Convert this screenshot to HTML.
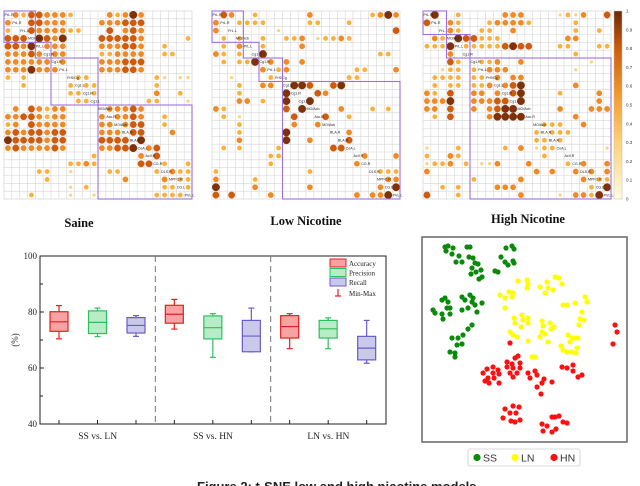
<!DOCTYPE html>
<html><head><meta charset="utf-8"><style>
html,body{margin:0;padding:0;background:#fff;width:640px;height:486px;overflow:hidden}
svg{display:block}
</style></head><body>
<svg id="root" width="640" height="486" viewBox="0 0 640 486" xmlns="http://www.w3.org/2000/svg">
<g id="mats"></g>
<g id="box"></g>
<g id="sc"></g>
<text x="197" y="491" font-family="Liberation Sans, sans-serif" font-weight="bold" font-size="13" fill="#222">Figure 2: t-SNE low and high nicotine models</text>
</svg>
<script>
const NS='http://www.w3.org/2000/svg';
function mk(p,t,a){const e=document.createElementNS(NS,t);for(const k in a)e.setAttribute(k,a[k]);p.appendChild(e);return e;}

// ---------- correlation matrices ----------
const m1Upper=[[0,1,3],[0,2,2],[0,3,4],[0,4,4],[0,5,3],[0,6,3],[0,7,3],[0,8,2],[0,13,3],[0,14,2],[0,15,3],[0,16,5],[0,17,3],
[1,3,4],[1,4,4],[1,5,3],[1,6,3],[1,7,3],[1,12,3],[1,13,3],[1,14,3],[1,15,4],[1,16,4],[1,17,4],
[2,3,4],[2,4,3],[2,5,3],[2,6,3],[2,7,3],[2,8,2],[2,9,2],[2,13,4],[2,15,3],[2,16,4],[2,17,3],
[3,4,5],[3,5,4],[3,6,3],[3,7,5],[3,12,4],[3,13,4],[3,14,4],[3,15,4],[3,16,4],[3,17,3],[3,23,2],
[4,5,3],[4,6,3],[4,7,3],[4,12,3],[4,13,3],[4,14,3],[4,15,4],[4,16,4],[4,17,3],[4,20,2],
[5,6,3],[5,7,3],[5,12,2],[5,13,2],[5,14,3],[5,15,3],[5,16,3],[5,17,3],[5,20,2],[5,21,2],
[6,7,3],[6,12,3],[6,13,3],[6,14,3],[6,15,4],[6,16,4],[6,17,4],
[7,12,3],[7,13,3],[7,14,3],[7,15,4],[7,16,4],[7,17,3],
[8,9,2],[8,10,2],[8,19,2],[8,20,1],[8,22,1],[8,23,1],[9,10,2],[9,11,2],[9,19,2],[10,11,2],[10,19,3],[10,22,2],[11,18,2],[11,19,2],[11,23,1],
[12,13,3],[12,14,3],[12,15,3],[12,16,4],[12,17,3],[13,14,3],[13,15,3],[13,16,4],[13,17,3],[13,20,2],
[14,15,3],[14,16,4],[14,17,4],[14,20,2],[15,16,4],[15,17,4],[15,21,3],[16,17,5],[17,18,3],[17,19,4],[18,19,4],
[19,20,2],[19,23,2],[20,21,3],[20,22,2],[20,23,2],[21,22,2],[21,23,2],[22,23,2]];
const m2Cells=[[0,1,4],[0,2,3],[0,5,2],[0,12,3],[0,20,2],[0,21,3],[0,22,5],[0,23,3],
[1,0,3],[1,3,2],[1,4,2],[1,5,2],[1,6,2],[1,12,2],[1,13,2],[1,17,2],[2,0,3],[2,8,1],[2,23,4],
[3,1,2],[3,3,2],[3,6,2],[3,9,2],[3,10,2],[3,11,3],[3,13,1],[3,14,2],[3,15,2],[3,16,3],[3,17,2],
[4,1,2],[4,3,3],[4,6,2],[4,11,3],[5,0,3],[5,1,2],[5,3,2],[5,6,5],[5,21,2],[5,22,2],
[6,1,2],[6,3,2],[6,4,2],[6,5,5],[6,7,3],[6,9,3],[6,11,3],[7,6,3],[7,8,2],[7,9,3],[7,18,2],[7,19,2],[7,23,3],
[8,2,1],[8,7,2],[8,17,2],[8,18,2],[9,3,2],[9,6,3],[9,7,3],[9,10,5],[9,11,5],[9,12,4],[9,15,4],[9,16,5],
[10,3,2],[10,9,5],[10,13,4],[10,14,3],[11,3,3],[11,4,3],[11,6,2],[11,9,5],[11,12,5],
[12,0,3],[12,1,2],[12,9,4],[12,11,5],[12,16,3],[12,20,2],[12,22,2],[13,1,2],[13,3,1],[13,10,4],[13,14,4],[13,17,2],
[14,3,2],[14,10,3],[14,13,3],[15,3,2],[15,9,5],[15,17,3],[16,3,3],[16,9,5],[16,12,3],[16,17,4],
[17,1,2],[17,3,2],[17,8,2],[17,15,4],[17,16,4],[18,7,2],[18,8,2],[18,19,3],[18,23,3],[19,7,2],[19,18,3],
[20,0,2],[20,12,2],[20,21,2],[20,22,2],[20,23,2],[21,0,3],[21,5,2],[21,22,3],[21,23,3],
[22,0,5],[22,5,3],[22,12,3],[22,21,3],[22,23,5],[23,0,4],[23,2,4],[23,7,3],[23,18,3],[23,20,3],[23,21,3],[23,22,5]];
const m3Cells=[[0,1,5],[0,4,2],[0,10,3],[0,11,3],[0,12,3],[0,17,1],[0,18,2],[0,19,1],[0,20,3],[0,23,4],
[1,0,4],[1,3,3],[1,4,2],[1,8,2],[1,9,3],[1,10,3],[1,11,3],[1,12,3],[1,13,2],[1,19,2],
[2,3,3],[2,4,2],[2,7,2],[2,8,2],[2,11,3],[2,19,2],[2,22,2],
[3,1,3],[3,2,2],[3,4,5],[3,5,4],[3,6,4],[3,7,2],[3,8,2],[3,9,2],[3,18,3],[3,19,3],
[4,0,2],[4,1,2],[4,2,2],[4,3,5],[4,5,2],[4,6,2],[4,7,2],[4,8,2],[4,9,2],[4,10,4],[4,11,5],[4,12,4],[4,13,4],[4,17,2],[4,18,2],[4,22,2],[4,23,2],
[5,3,3],[5,19,2],[6,3,4],[6,4,2],[6,7,2],[6,8,2],[6,9,3],[6,12,3],[6,21,1],
[7,2,1],[7,3,2],[7,4,2],[7,6,2],[7,8,3],[7,9,3],[7,10,3],[7,19,1],
[8,1,2],[8,2,2],[8,3,2],[8,4,2],[8,6,2],[8,7,2],[8,9,3],[8,11,3],[8,12,3],
[9,1,2],[9,3,2],[9,4,2],[9,6,2],[9,7,2],[9,8,3],[9,10,3],[9,11,4],[9,12,5],[9,19,3],
[10,0,3],[10,1,2],[10,3,4],[10,6,3],[10,7,3],[10,9,3],[10,11,4],[10,12,5],[10,17,2],[10,22,3],
[11,0,3],[11,1,3],[11,2,3],[11,3,5],[11,6,3],[11,7,3],[11,8,3],[11,9,4],[11,10,4],[11,12,5],[11,22,3],
[12,0,3],[12,1,3],[12,3,4],[12,6,3],[12,8,3],[12,9,4],[12,10,5],[12,11,5],[12,17,3],[12,21,3],[12,22,3],[12,23,3],
[13,1,2],[13,3,4],[13,8,3],[13,9,5],[13,10,5],[13,11,5],[13,12,5],[13,19,3],
[14,15,2],[14,16,2],[14,17,2],[14,20,3],[15,14,2],[15,16,2],[15,17,2],[15,18,2],[16,14,2],[16,15,2],[16,17,2],
[17,0,1],[17,4,2],[17,10,2],[17,12,3],[17,14,1],[17,15,2],[17,16,2],[17,23,1],[18,0,2],[18,3,3],[18,4,2],[18,15,2],
[19,0,1],[19,1,2],[19,2,2],[19,3,3],[19,5,2],[19,7,1],[19,8,1],[19,9,3],[19,13,3],[19,18,2],[19,20,3],[19,23,3],
[20,0,3],[20,14,3],[20,16,3],[20,19,3],[20,21,3],[20,23,3],[21,6,2],[21,12,3],[21,20,3],[21,22,2],[21,23,2],
[22,2,2],[22,4,2],[22,9,3],[22,10,3],[22,11,3],[22,21,2],[22,23,5],[23,0,4],[23,4,2],[23,12,3],[23,17,1],[23,19,3],[23,20,3],[23,21,2],[23,22,5]];
const m1Blocks=[[0,4],[4,6],[6,12],[12,24]];
const m2Blocks=[[0,4],[4,6],[6,9],[9,24]];
const m3Blocks=[[0,3],[3,6],[6,24]];
const diagLabels=['PrL.R','PrL.R','PrL.L','MO/Acb','PrL.L','Cg1.R','Cg1.R','PrL.L','PrS/Cg','Cg1.L','Cg1.R','Cg1.L','MO/Acb','Acc.R','MO/Acb','BLA.R','BLA.R','CeA.L','AcV.R','CG.R','DLS.R','MPFC.R','CG.L','PVL.L'];
const matTitles=['Saine','Low Nicotine','High Nicotine'];
const colorSteps=['#fff','#fdd27a','#fbb03b','#f08a24','#cf5c0e','#7f3208'];
const radSteps=[0,1.6,2.4,2.9,3.4,3.9];

function drawMatrix(idx,x0,y0,size,cells,sym,blocks,title,tx,ty){
  const g=mk(document.getElementById('mats'),'g',{});
  
  
  const n=24,c=size/n;
  mk(g,'rect',{x:x0,y:y0,width:size,height:size,fill:'#fff',stroke:'#ccc','stroke-width':0.6});
  for(let i=1;i<n;i++){
    mk(g,'line',{x1:x0+i*c,y1:y0,x2:x0+i*c,y2:y0+size,stroke:'#d6d6d6','stroke-width':0.6});
    mk(g,'line',{x1:x0,y1:y0+i*c,x2:x0+size,y2:y0+i*c,stroke:'#d6d6d6','stroke-width':0.6});
  }
  const all=[];
  cells.forEach(d=>{all.push(d);if(sym)all.push([d[1],d[0],d[2]]);});
  all.forEach(d=>{
    const e=mk(g,'circle',{cx:x0+(d[1]+0.5)*c,cy:y0+(d[0]+0.5)*c,r:radSteps[d[2]],fill:colorSteps[d[2]]});
    
    
  });
  for(let i=0;i<n;i++){
    const t=mk(g,'text',{x:x0+i*c+0.5,y:y0+(i+0.5)*c+1.3,'font-size':3.6,'font-family':'Liberation Sans, sans-serif',fill:'#222'});
    t.textContent=diagLabels[i];
    
    
  }
  blocks.forEach(b=>{
    const r=mk(g,'rect',{x:x0+b[0]*c,y:y0+b[0]*c,width:(b[1]-b[0])*c,height:(b[1]-b[0])*c,fill:'none',stroke:'#9d6fe0','stroke-width':1.1});
    
    
  });
  const t=mk(g,'text',{x:tx,y:ty,'text-anchor':'middle','font-size':12.5,'font-weight':'bold','font-family':'Liberation Serif, serif',fill:'#111'});
  t.textContent=title;
  
  
}
drawMatrix(0,4,11,188,m1Upper,true,m1Blocks,matTitles[0],79,227);
drawMatrix(1,212,11,188,m2Cells,false,m2Blocks,matTitles[1],306,225);
drawMatrix(2,423,11,188,m3Cells,false,m3Blocks,matTitles[2],528,223);
// colorbar
(function(){
  const g=mk(document.getElementById('mats'),'g',{});
  
  
  const defs=mk(g,'defs',{});
  const lg=mk(defs,'linearGradient',{id:'cb',x1:0,y1:1,x2:0,y2:0});
  [['0','#fffbe2'],['0.3','#fdd27a'],['0.55','#f39a2e'],['0.8','#cf5c0e'],['1','#6b2807']].forEach(s=>mk(lg,'stop',{offset:s[0],'stop-color':s[1]}));
  mk(g,'rect',{x:614,y:11,width:8,height:188,fill:'url(#cb)',stroke:'#bbb','stroke-width':0.5});
  const cbTicks=['0','0.1','0.2','0.3','0.4','0.5','0.6','0.7','0.8','0.9','1'];
  cbTicks.forEach((s,i)=>{const t=mk(g,'text',{x:626,y:199-i*18.8+1.5,'font-size':4.5,'font-family':'Liberation Sans, sans-serif',fill:'#333'});t.textContent=s;});
})();

// ---------- box plot ----------
const groups=['SS vs. LN','SS vs. HN','LN vs. HN'];
const metrics=['Accuracy','Precision','Recall'];
const boxMin=[[70.4,71.2,71.3],[73.9,63.8,65.8],[66.9,66.9,61.7]];
const boxQ1=[[73.1,72.3,72.5],[76.0,70.4,65.8],[70.7,70.7,62.9]];
const boxMed=[[76.5,76.3,75.2],[79.2,74.4,71.4],[74.8,74.0,67.1]];
const boxQ3=[[80.1,80.4,78.0],[82.4,78.6,77.0],[78.7,77.0,71.3]];
const boxMax=[[82.3,81.4,78.7],[84.5,79.4,81.4],[79.4,77.9,77.0]];
const yTicks=[40,60,80,100];
(function(){
  const g=document.getElementById('box');
  const L=40,R=386,T=256,B=424;
  const y=v=>B-(v-40)/60*(B-T);
  const gw=(R-L)/3;
  const x=(gi,mi)=>L+gi*gw+19+mi*38.5;
  const stroke=['#e3201f','#2fbf5e','#6a5acd'],fill=['#f7a3a3','#b7ecc6','#c9c9ea'];
  mk(g,'rect',{x:L,y:T,width:R-L,height:B-T,fill:'none',stroke:'#222','stroke-width':1});
  yTicks.forEach(v=>{
    mk(g,'line',{x1:L,x2:L+4,y1:y(v),y2:y(v),stroke:'#222'});
    const t=mk(g,'text',{x:L-3,y:y(v)+3,'text-anchor':'end','font-size':9,'font-family':'Liberation Serif, serif',fill:'#222'});t.textContent=v;
    
    
    if(v<100)mk(g,'line',{x1:L,x2:L+3,y1:y(v+10),y2:y(v+10),stroke:'#222'});
  });
  const yl=mk(g,'text',{x:0,y:0,transform:'translate(18,340) rotate(-90)','text-anchor':'middle','font-size':9,'font-family':'Liberation Serif, serif',fill:'#222'});
  yl.textContent='(%)';
  
  
  [1,2].forEach(i=>mk(g,'line',{x1:L+i*gw,x2:L+i*gw,y1:T,y2:B,stroke:'#777','stroke-dasharray':'6,4','stroke-width':1}));
  groups.forEach((gn,gi)=>{
    const t=mk(g,'text',{x:L+gi*gw+gw/2,y:439,'text-anchor':'middle','font-size':9.5,'font-family':'Liberation Serif, serif',fill:'#222'});t.textContent=gn;
    
    
    metrics.forEach((m,mi)=>{
      const cx=x(gi,mi),w=18;
      mk(g,'line',{x1:cx,x2:cx,y1:B,y2:B-4,stroke:'#222'});
      const bg=mk(g,'g',{});
      
      
      mk(bg,'line',{x1:cx,x2:cx,y1:y(boxMax[gi][mi]),y2:y(boxQ3[gi][mi]),stroke:stroke[mi],'stroke-width':1.2});
      mk(bg,'line',{x1:cx,x2:cx,y1:y(boxMin[gi][mi]),y2:y(boxQ1[gi][mi]),stroke:stroke[mi],'stroke-width':1.2});
      mk(bg,'line',{x1:cx-3,x2:cx+3,y1:y(boxMax[gi][mi]),y2:y(boxMax[gi][mi]),stroke:stroke[mi],'stroke-width':1.2});
      mk(bg,'line',{x1:cx-3,x2:cx+3,y1:y(boxMin[gi][mi]),y2:y(boxMin[gi][mi]),stroke:stroke[mi],'stroke-width':1.2});
      mk(bg,'rect',{x:cx-w/2,y:y(boxQ3[gi][mi]),width:w,height:y(boxQ1[gi][mi])-y(boxQ3[gi][mi]),fill:fill[mi],stroke:stroke[mi],'stroke-width':1.2});
      mk(bg,'line',{x1:cx-w/2,x2:cx+w/2,y1:y(boxMed[gi][mi]),y2:y(boxMed[gi][mi]),stroke:stroke[mi],'stroke-width':1.2});
    });
  });
  metrics.forEach((m,mi)=>{
    const ly=259+mi*9.5;
    const e=mk(g,'rect',{x:330,y:ly,width:16,height:8,fill:fill[mi],stroke:stroke[mi],'stroke-width':1});
    
    
    const t=mk(g,'text',{x:349,y:ly+7,'font-size':7,'font-family':'Liberation Serif, serif',fill:'#222'});t.textContent=m;
    
    
  });
  mk(g,'line',{x1:338,x2:338,y1:289,y2:296,stroke:'#e3201f','stroke-width':1.2});
  mk(g,'line',{x1:335,x2:341,y1:296,y2:296,stroke:'#e3201f','stroke-width':1.2});
  const mm=mk(g,'text',{x:349,y:296,'font-size':7,'font-family':'Liberation Serif, serif',fill:'#222'});mm.textContent='Min-Max';
})();

// ---------- t-SNE scatter ----------
const ssPts=[[23,195],[26,196],[24,191],[30,188],[31,194],[37,186],[34,180],[40,180],[45,195],[48,195],[47,185],[51,184],[53,179],[56,178],[50,174],[54,170],[49,168],[59,172],[60,165],[57,163],[73,171],[76,170],
[84,194],[90,196],[92,193],[79,185],[83,180],[86,177],[91,181],[92,179],
[20,142],[23,144],[26,140],[11,132],[13,129],[20,128],[21,123],[25,134],[28,134],[28,128],[40,145],[48,147],[51,144],[43,142],[46,134],[53,137],[55,130],[60,139],[40,132],[50,140],
[50,117],[46,113],[41,107],[36,104],[30,104],[35,97],[40,98],[28,90],[33,89],[33,85]];
const lnPts=[[78,147],[83,144],[87,150],[91,149],[90,145],[83,134],[96,161],[105,162],[106,158],[105,154],[118,155],[125,160],[126,154],[123,149],[131,152],[133,165],[137,164],[140,158],[141,137],[145,137],[153,139],[163,145],[165,140],[160,130],[158,123],[157,117],[162,122],[92,124],[93,119],[100,127],[101,122],[99,115],[106,124],[106,119],[88,110],[91,107],[95,105],[106,101],[120,121],[121,116],[120,110],[118,105],[123,108],[128,119],[132,115],[129,113],[126,100],[139,96],[141,92],[146,107],[148,100],[150,104],[153,104],[156,104],[155,94],[154,89],[145,90],[150,90],[110,85],[113,85]];
const hnPts=[[88,99],[193,117],[195,110],[191,98],
[61,69],[65,73],[71,75],[71,69],[76,72],[66,64],[72,64],[77,68],[63,61],[67,59],[77,59],[85,80],[90,78],[93,84],[96,86],[98,79],[85,75],[91,74],[98,74],[88,69],[95,69],[91,65],[106,69],[108,64],[113,71],[115,67],[122,63],[120,59],[130,60],[115,55],[119,48],[140,75],[145,74],[151,77],[151,71],[160,67],[156,65],
[83,33],[91,36],[97,35],[88,29],[94,29],[81,24],[89,21],[93,20],[98,22],
[120,18],[125,16],[130,25],[133,25],[137,26],[141,20],[145,19],[134,13],[130,10],[121,11]];
const classNames=['SS','LN','HN'];
(function(){
  const g=document.getElementById('sc');
  const X0=422,Y0=237,S=205;
  const sx=v=>X0+v/205*S, sy=v=>Y0+S-v/205*S;
  mk(g,'rect',{x:X0,y:Y0,width:S,height:S,fill:'#fff',stroke:'#666','stroke-width':1.5});
  const cols=['#0a8a0a','#ffff00','#ff1010'];
  [ssPts,lnPts,hnPts].forEach((arr,ci)=>{
    arr.forEach(p=>{
      const c=mk(g,'circle',{cx:sx(p[0]),cy:sy(p[1]),r:2.6,fill:cols[ci]});
      
      
    });
  });
  const lg=mk(g,'g',{});
  
  
  mk(lg,'rect',{x:468,y:449,width:112,height:17,rx:2,fill:'#fff',stroke:'#ccc','stroke-width':0.8});
  classNames.forEach((n,i)=>{
    const lx=[477,515,554][i];
    mk(lg,'circle',{cx:lx,cy:457.5,r:3.6,fill:cols[i]});
    const t=mk(lg,'text',{x:lx+6,y:461.5,'font-size':10.5,'font-family':'Liberation Sans, sans-serif',fill:'#333'});t.textContent=n;
    
    
  });
})();
</script>
</body></html>
